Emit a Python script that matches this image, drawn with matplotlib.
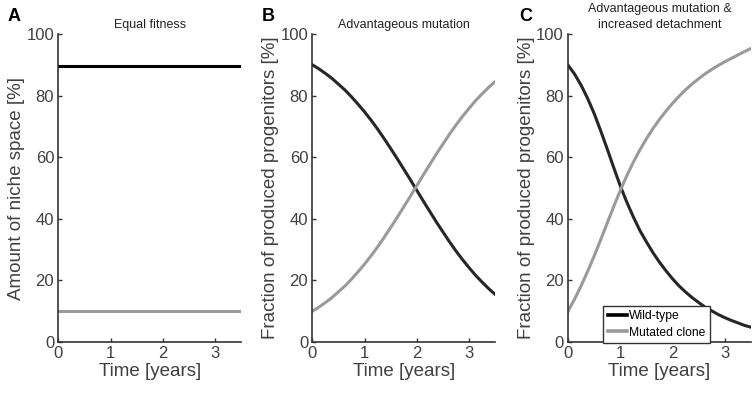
import numpy as np
import matplotlib
matplotlib.use("Agg")
import matplotlib.pyplot as plt

plt.rcParams['font.family'] = ['Liberation Sans', 'DejaVu Sans']

# time points [years]
t = [0, 0.125, 0.25, 0.375, 0.5, 0.625, 0.75, 0.875, 1.0, 1.125, 1.25, 1.375, 1.5, 1.625, 1.75,
     1.875, 2.0, 2.125, 2.25, 2.375, 2.5, 2.625, 2.75, 2.875, 3.0, 3.125, 3.25, 3.375, 3.5]

# A - equal fitness
a_wild = [89.5] * len(t)
a_mut = [10.0] * len(t)

# B - advantageous mutation
b_mut = [10.0, 11.3, 12.8, 14.4, 16.3, 18.2, 20.4, 22.8, 25.3, 28.0, 30.9, 34.0, 37.2, 40.5, 43.9,
         47.3, 50.8, 54.3, 57.7, 61.1, 64.3, 67.5, 70.5, 73.3, 75.9, 78.4, 80.6, 82.7, 84.6]
b_wild = [90.0, 88.7, 87.2, 85.6, 83.7, 81.8, 79.6, 77.2, 74.7, 72.0, 69.1, 66.0, 62.8, 59.5, 56.1,
          52.7, 49.2, 45.7, 42.3, 38.9, 35.7, 32.5, 29.5, 26.7, 24.1, 21.6, 19.4, 17.3, 15.4]

# C - advantageous mutation & increased detachment
c_wild = [89.9, 87.0, 83.4, 79.1, 74.2, 68.6, 62.7, 56.6, 50.7, 45.4, 40.6, 36.2, 32.5, 29.0, 25.9,
          23.1, 20.5, 18.2, 16.2, 14.4, 12.8, 11.3, 10.1, 8.9, 7.9, 7.0, 6.2, 5.4, 4.8]
c_mut = [10.0, 13.9, 18.2, 22.9, 27.9, 33.2, 38.6, 44.0, 49.2, 54.0, 58.4, 62.4, 66.0, 69.3, 72.3,
         75.0, 77.5, 79.8, 81.9, 83.8, 85.5, 87.1, 88.5, 89.8, 91.0, 92.1, 93.2, 94.3, 95.3]

titles = ["Equal fitness", "Advantageous mutation",
          "Advantageous mutation &\nincreased detachment"]
ylabels = ["Amount of niche space [%]",
           "Fraction of produced progenitors [%]",
           "Fraction of produced progenitors [%]"]
letters = ["A", "B", "C"]

wild_colors = ["#000000", "#262626", "#262626"]
mut_color = "#9a9a9a"
axis_col = "#333333"
text_col = "#404040"

fig = plt.figure(figsize=(7.55, 3.97), dpi=100)
lefts = [58.3 / 755, 312.3 / 755, 568 / 755]
letter_x = [8 / 755, 262 / 755, 519 / 755]
data = [(a_wild, a_mut), (b_wild, b_mut), (c_wild, c_mut)]

for i in range(3):
    ax = fig.add_axes([lefts[i], 1 - 342 / 397, 183 / 755, 308 / 397])
    w, m = data[i]
    ax.plot(t, w, color=wild_colors[i], lw=2.2, label="Wild-type")
    ax.plot(t, m, color=mut_color, lw=2.2, label="Mutated clone")
    ax.set_xlim(0, 3.5)
    ax.set_ylim(0, 100)
    ax.set_xticks([0, 1, 2, 3])
    ax.set_yticks([0, 20, 40, 60, 80, 100])
    for s in ["top", "right"]:
        ax.spines[s].set_visible(False)
    for s in ["left", "bottom"]:
        ax.spines[s].set_color(axis_col)
        ax.spines[s].set_linewidth(1.2)
    ax.tick_params(direction="in", length=3, width=1, color=axis_col,
                   labelsize=12, labelcolor=text_col, pad=3)
    ax.set_xlabel("Time [years]", fontsize=13.5, color=text_col, labelpad=1)
    ax.set_ylabel(ylabels[i], fontsize=13.5, color=text_col, labelpad=1)
    ax.set_title(titles[i], fontsize=9, color="#222222", pad=4, linespacing=1.45)
    fig.text(letter_x[i], 1 - 8 / 397, letters[i], fontsize=13, fontweight="bold",
             va="top", ha="left")
    if i == 2:
        leg = ax.legend(loc="lower right", bbox_to_anchor=(0.776, -0.003), fontsize=8.7,
                        frameon=True, fancybox=False, borderpad=0.35,
                        handlelength=1.6, handletextpad=0.2, labelspacing=0.35,
                        borderaxespad=0)
        leg.get_frame().set_edgecolor(axis_col)
        leg.get_frame().set_linewidth(1.0)
        leg.get_frame().set_alpha(1)
        for line in leg.get_lines():
            line.set_linewidth(2.6)
        leg.get_lines()[0].set_color("#000000")

fig.savefig("out.png", dpi=100)
